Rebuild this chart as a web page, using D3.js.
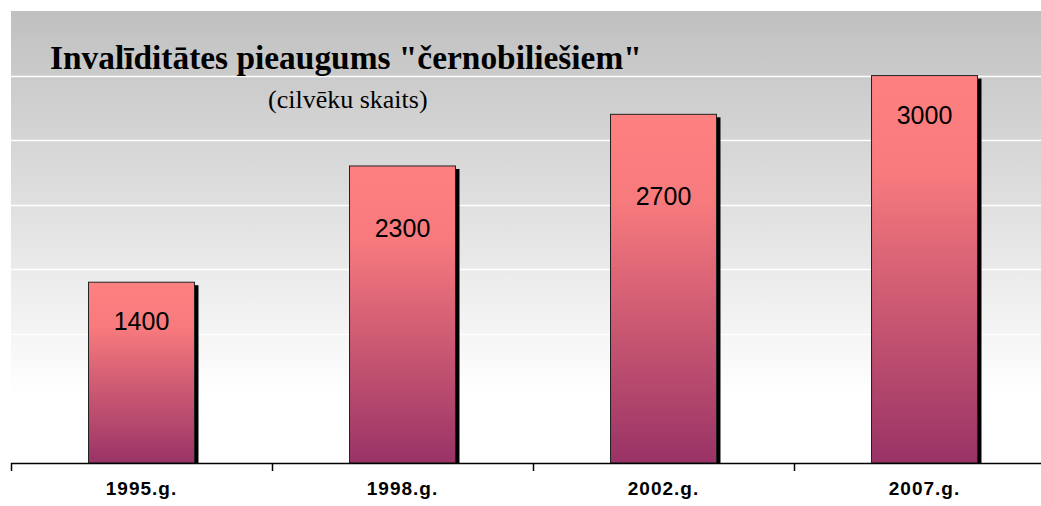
<!DOCTYPE html>
<html>
<head>
<meta charset="utf-8">
<script src="https://cdn.jsdelivr.net/npm/d3@7"></script>
<style>
  body { margin: 0; background: #fff; }
</style>
</head>
<body>
<script>
// chart data
const years = ["1995.g.", "1998.g.", "2002.g.", "2007.g."];
const invalids = [1400, 2300, 2700, 3000];
const yTicks = [0, 500, 1000, 1500, 2000, 2500, 3000, 3500];

// labels were placed by hand in the original, so offsets differ per bar
const labelDy = [40, 63, 83, 40];

const width = 1041;
const height = 506;
const plotLeft = 11;
const plotRight = 1055; // plot runs past the window edge
const plotTop = 11;
const plotBottom = 463;

const svg = d3
  .select("body")
  .append("svg")
  .attr("width", width)
  .attr("height", height);

const defs = svg.append("defs");

const bg = defs
  .append("linearGradient")
  .attr("id", "bg")
  .attr("x1", 0)
  .attr("y1", 0)
  .attr("x2", 0)
  .attr("y2", 1);
bg.append("stop").attr("offset", "0%").attr("stop-color", "#c0c0c0");
bg.append("stop").attr("offset", "85%").attr("stop-color", "#ffffff");

const barFill = defs
  .append("linearGradient")
  .attr("id", "barFill")
  .attr("x1", 0)
  .attr("y1", 0)
  .attr("x2", 0)
  .attr("y2", 1);
barFill.append("stop").attr("offset", "0%").attr("stop-color", "#ff8080");
barFill.append("stop").attr("offset", "25%").attr("stop-color", "#f77a7d");
barFill.append("stop").attr("offset", "100%").attr("stop-color", "#993366");

const x = d3
  .scaleBand()
  .domain(years)
  .range([plotLeft, plotRight])
  .paddingInner(0.594)
  .paddingOuter(0.297);

const y = d3.scaleLinear().domain([0, 3500]).range([plotBottom, plotTop]);

// plot background
svg
  .append("rect")
  .attr("x", plotLeft)
  .attr("y", plotTop)
  .attr("width", plotRight - plotLeft)
  .attr("height", plotBottom - plotTop)
  .attr("fill", "url(#bg)");

// gridlines
svg
  .selectAll("line.grid")
  .data(yTicks.slice(1, -1))
  .enter()
  .append("line")
  .attr("class", "grid")
  .attr("x1", plotLeft)
  .attr("x2", plotRight)
  .attr("y1", (d) => Math.round(y(d)) + 0.5)
  .attr("y2", (d) => Math.round(y(d)) + 0.5)
  .attr("stroke", "#ffffff")
  .attr("stroke-width", 1.5);

// shadows
svg
  .selectAll("rect.shadow")
  .data(invalids)
  .enter()
  .append("rect")
  .attr("class", "shadow")
  .attr("x", (d, i) => x(years[i]) + 4)
  .attr("y", (d) => y(d) + 3)
  .attr("width", x.bandwidth())
  .attr("height", (d) => plotBottom - y(d) - 3)
  .attr("fill", "#000");

// bars
svg
  .selectAll("rect.bar")
  .data(invalids)
  .enter()
  .append("rect")
  .attr("class", "bar")
  .attr("x", (d, i) => x(years[i]))
  .attr("y", (d) => y(d))
  .attr("width", x.bandwidth())
  .attr("height", (d) => plotBottom - y(d))
  .attr("fill", "url(#barFill)")
  .attr("stroke", "#222")
  .attr("stroke-width", 1);

// value labels
svg
  .selectAll("text.value")
  .data(invalids)
  .enter()
  .append("text")
  .attr("class", "value")
  .text((d) => d)
  .attr("x", (d, i) => x(years[i]) + x.bandwidth() / 2)
  .attr("y", (d, i) => y(d) + labelDy[i] + 8)
  .attr("text-anchor", "middle")
  .attr("font-family", "Liberation Sans, Arial, sans-serif")
  .attr("font-size", 25)
  .attr("fill", "#000");

// x axis
const xAxis = svg.append("g");
xAxis
  .append("line")
  .attr("x1", plotLeft)
  .attr("x2", plotRight)
  .attr("y1", plotBottom + 0.5)
  .attr("y2", plotBottom + 0.5)
  .attr("stroke", "#000")
  .attr("stroke-width", 1.5);
xAxis
  .selectAll("line.tick")
  .data(years)
  .enter()
  .append("line")
  .attr("class", "tick")
  .attr("x1", (d) => x(d) - x.step() * x.paddingOuter() + 0.5)
  .attr("x2", (d) => x(d) - x.step() * x.paddingOuter() + 0.5)
  .attr("y1", plotBottom)
  .attr("y2", plotBottom + 8)
  .attr("stroke", "#000")
  .attr("stroke-width", 1.5);
xAxis
  .selectAll("text")
  .data(years)
  .enter()
  .append("text")
  .text((d) => d)
  .attr("x", (d) => x(d) + x.bandwidth() / 2)
  .attr("y", 495)
  .attr("text-anchor", "middle")
  .attr("font-family", "Liberation Sans, Arial, sans-serif")
  .attr("font-weight", "bold")
  .attr("font-size", 19)
  .attr("letter-spacing", 1)
  .attr("fill", "#000");

// titles
svg
  .append("text")
  .text("Invalīditātes pieaugums \"černobiliešiem\"")
  .attr("x", 50)
  .attr("y", 69)
  .attr("font-family", "Liberation Serif, Times New Roman, serif")
  .attr("font-weight", "bold")
  .attr("font-size", 33.4)
  .attr("fill", "#000");

svg
  .append("text")
  .text("(cilvēku skaits)")
  .attr("x", 268)
  .attr("y", 108)
  .attr("font-family", "Liberation Serif, Times New Roman, serif")
  .attr("font-size", 26)
  .attr("fill", "#000");
</script>
</body>
</html>
